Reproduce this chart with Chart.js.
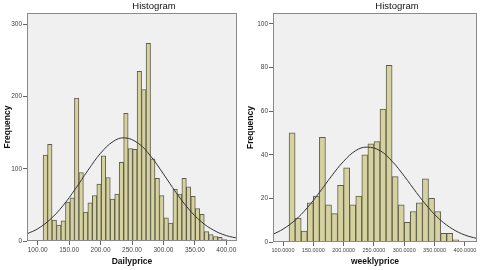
<!DOCTYPE html>
<html lang="en">
<head>
    <meta charset="UTF-8">
    <title>Histogram</title>
    <script src="https://cdn.jsdelivr.net/npm/chart.js"></script>
    <style>
        body { margin: 0; background: #fff; }
        .wrap { display: flex; width: 480px; height: 270px; }
        canvas { display: block; }
    </style>
</head>
<body>
    <div class="wrap">
        <canvas id="dailyChart" width="240" height="270"></canvas>
        <canvas id="weeklyChart" width="240" height="270"></canvas>
    </div>

    <script>
        // Daily price histogram (bins of ~7.12 starting at 108.6)
        const dailyBinStart = 108.6;
        const dailyBinWidth = 7.12;
        const dailyFreq = [119, 134, 29, 22, 28, 54, 60, 198, 95, 40, 53, 63, 79, 118, 88, 58, 65, 109, 177, 128,
                           127, 235, 210, 274, 114, 87, 63, 32, 25, 72, 65, 87, 75, 62, 45, 37, 13, 9, 6, 5, 2];

        // Weekly price histogram (bins of 10 starting at 110)
        const weeklyBinStart = 110;
        const weeklyBinWidth = 10;
        const weeklyFreq = [50, 11, 5, 18, 21, 48, 17, 13, 26, 34, 17, 21, 40, 45, 46, 61, 81, 30, 17, 9,
                            14, 18, 29, 20, 14, 4, 4, 1];

        // Normal curve
        const curveX = [84, 100, 120, 140, 160, 180, 200, 220, 238, 260, 280, 300, 320, 340, 360, 380, 400, 420];
        const dailyCurve = [10.3, 16.9, 30, 48.7, 72.3, 98, 121.6, 137.9, 143, 135.4, 117.3, 92.9, 67.3, 44.5, 26.9, 14.9, 7.5, 3.5];
        const weeklyCurve = [3.6, 5.9, 10, 15.7, 22.7, 30.2, 37, 41.9, 43.5, 41.9, 37, 30.2, 22.7, 15.7, 10, 5.9, 3.2, 1.6];

        // Tick labels
        const xTickValues = [100, 150, 200, 250, 300, 350, 400];
        const dailyXLabels = ['100.00', '150.00', '200.00', '250.00', '300.00', '350.00', '400.00'];
        const weeklyXLabels = ['100.0000', '150.0000', '200.0000', '250.0000', '300.0000', '350.0000', '400.0000'];
        const dailyYTicks = [0, 100, 200, 300];
        const weeklyYTicks = [0, 20, 40, 60, 80, 100];

        const tickFont = '"Liberation Sans Narrow", "Arial Narrow", "Liberation Sans", sans-serif';
        const labelFont = '"Liberation Sans", Arial, sans-serif';

        // plot frame + background + title, SPSS style
        const framePlugin = {
            id: 'frame',
            beforeDatasetsDraw(chart) {
                const { ctx, chartArea: a } = chart;
                ctx.save();
                ctx.fillStyle = '#f0f0f0';
                ctx.fillRect(a.left, a.top, a.right - a.left, a.bottom - a.top);
                ctx.restore();
            },
            afterDatasetsDraw(chart) {
                const { ctx, chartArea: a } = chart;
                ctx.save();
                ctx.strokeStyle = '#8a8a8a';
                ctx.lineWidth = 1;
                ctx.strokeRect(a.left + 0.5, a.top + 0.5, a.right - a.left - 1, a.bottom - a.top - 1);
                ctx.restore();
            },
            afterDraw(chart) {
                const { ctx, chartArea: a } = chart;
                ctx.save();
                ctx.fillStyle = '#111';
                ctx.font = '9.5px ' + labelFont;
                ctx.textAlign = 'center';
                ctx.textBaseline = 'middle';
                ctx.fillText('Histogram', (a.left + a.right) / 2 + 22, 6);
                ctx.restore();
            }
        };

        function makeHist(id, opts) {
            const bars = opts.freq.map((f, i) => ({ x: opts.binStart + (i + 0.5) * opts.binWidth, y: f }));
            const curve = curveX.map((x, i) => ({ x: x, y: opts.curve[i] }));
            return new Chart(document.getElementById(id), {
                type: 'bar',
                data: {
                    datasets: [{
                        type: 'line',
                        data: curve,
                        borderColor: '#333',
                        borderWidth: 1,
                        pointRadius: 0,
                        tension: 0.4,
                        order: 0
                    }, {
                        data: bars,
                        backgroundColor: '#d6d2a0',
                        borderColor: '#5e5d4c',
                        borderWidth: 1,
                        barPercentage: 1,
                        categoryPercentage: 1,
                        order: 1
                    }]
                },
                options: {
                    responsive: false,
                    animation: false,
                    layout: { padding: { top: 13, right: 3, left: 0, bottom: 0 } },
                    plugins: { legend: { display: false }, tooltip: { enabled: false } },
                    scales: {
                        x: {
                            type: 'linear',
                            offset: false,
                            min: opts.xMin,
                            max: opts.xMax,
                            afterBuildTicks: s => { s.ticks = xTickValues.map(v => ({ value: v })); },
                            afterFit: s => { s.height = opts.xHeight; },
                            grid: { offset: false, drawOnChartArea: false, tickLength: 4, color: '#666' },
                            border: { display: false },
                            ticks: {
                                autoSkip: false,
                                maxRotation: 0,
                                padding: 1,
                                color: '#444',
                                font: { size: opts.xTickSize, family: tickFont },
                                callback: (v) => opts.xLabels[xTickValues.indexOf(v)]
                            },
                            title: {
                                display: true,
                                text: opts.xTitle,
                                color: '#111',
                                padding: { top: 0, bottom: 3 },
                                font: { size: 8.5, weight: 'bold', family: labelFont }
                            }
                        },
                        y: {
                            min: 0,
                            max: opts.yMax,
                            afterBuildTicks: s => { s.ticks = opts.yTicks.map(v => ({ value: v })); },
                            afterFit: s => { s.width = opts.yWidth; },
                            grid: { drawOnChartArea: false, tickLength: 4, color: '#666' },
                            border: { display: false },
                            ticks: {
                                padding: 1,
                                color: '#444',
                                font: { size: 6.5, family: tickFont }
                            },
                            title: {
                                display: true,
                                text: 'Frequency',
                                color: '#111',
                                padding: { top: opts.yTitlePad, bottom: 0 },
                                font: { size: 8.5, weight: 'bold', family: labelFont }
                            }
                        }
                    }
                },
                plugins: [framePlugin]
            });
        }

        makeHist('dailyChart', {
            freq: dailyFreq, binStart: dailyBinStart, binWidth: dailyBinWidth, curve: dailyCurve,
            xMin: 83, xMax: 417, yMax: 316, yTicks: dailyYTicks, xLabels: dailyXLabels, xTickSize: 6.5,
            xTitle: 'Dailyprice', xHeight: 29, yWidth: 27, yTitlePad: 3
        });

        makeHist('weeklyChart', {
            freq: weeklyFreq, binStart: weeklyBinStart, binWidth: weeklyBinWidth, curve: weeklyCurve,
            xMin: 83.5, xMax: 420, yMax: 105, yTicks: weeklyYTicks, xLabels: weeklyXLabels, xTickSize: 5.5,
            xTitle: 'weeklyprice', xHeight: 28, yWidth: 33, yTitlePad: 6
        });
    </script>
</body>
</html>
